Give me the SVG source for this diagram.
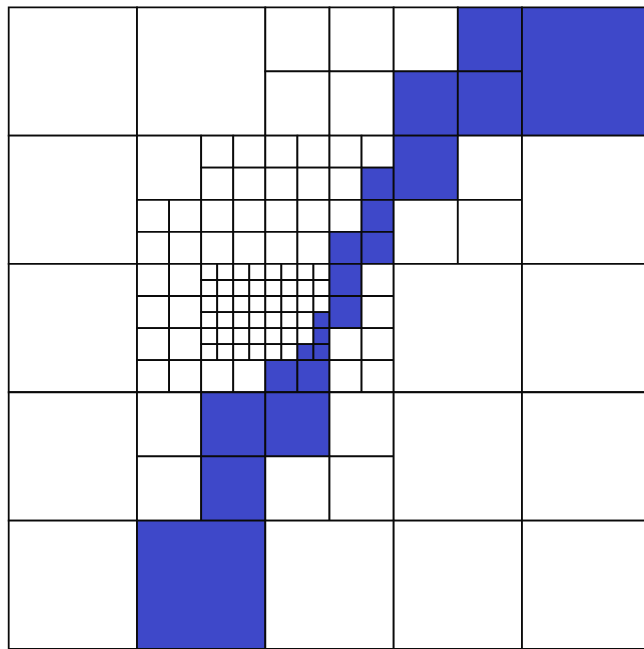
<svg xmlns="http://www.w3.org/2000/svg" width="644" height="649" viewBox="0 0 644 649">
<style>
rect{stroke:#0a0a0a;stroke-width:1.8;vector-effect:non-scaling-stroke;fill:#fff}
rect.b{fill:#3e48c9}
</style>
<rect x="0" y="0" width="644" height="649" style="stroke:none;fill:#fff"/>
<g transform="translate(8.7,7.3) scale(16.04)">
<g id="r0">
<rect x="0" y="0" width="8" height="8"/>
<rect x="8" y="0" width="8" height="8"/>
<rect x="16" y="0" width="4" height="4"/><rect x="20" y="0" width="4" height="4"/><rect x="16" y="4" width="4" height="4"/><rect x="20" y="4" width="4" height="4"/>
<rect x="24" y="0" width="4" height="4"/><rect class="b" x="28" y="0" width="4" height="4"/><rect class="b" x="24" y="4" width="4" height="4"/><rect class="b" x="28" y="4" width="4" height="4"/>
<rect class="b" x="32" y="0" width="8" height="8"/>
</g>
<g id="r1">
<rect x="0" y="8" width="8" height="8"/>
<rect x="8" y="8" width="4" height="4"/>
<rect x="12" y="8" width="2" height="2"/><rect x="14" y="8" width="2" height="2"/><rect x="12" y="10" width="2" height="2"/><rect x="14" y="10" width="2" height="2"/>
<rect x="8" y="12" width="2" height="2"/><rect x="10" y="12" width="2" height="2"/><rect x="8" y="14" width="2" height="2"/><rect x="10" y="14" width="2" height="2"/>
<rect x="12" y="12" width="2" height="2"/><rect x="14" y="12" width="2" height="2"/><rect x="12" y="14" width="2" height="2"/><rect x="14" y="14" width="2" height="2"/>
<rect x="16" y="8" width="2" height="2"/><rect x="18" y="8" width="2" height="2"/><rect x="16" y="10" width="2" height="2"/><rect x="18" y="10" width="2" height="2"/>
<rect x="20" y="8" width="2" height="2"/><rect x="22" y="8" width="2" height="2"/><rect x="20" y="10" width="2" height="2"/><rect class="b" x="22" y="10" width="2" height="2"/>
<rect x="16" y="12" width="2" height="2"/><rect x="18" y="12" width="2" height="2"/><rect x="16" y="14" width="2" height="2"/><rect x="18" y="14" width="2" height="2"/>
<rect x="20" y="12" width="2" height="2"/><rect class="b" x="22" y="12" width="2" height="2"/><rect class="b" x="20" y="14" width="2" height="2"/><rect class="b" x="22" y="14" width="2" height="2"/>
<rect class="b" x="24" y="8" width="4" height="4"/><rect x="28" y="8" width="4" height="4"/><rect x="24" y="12" width="4" height="4"/><rect x="28" y="12" width="4" height="4"/>
<rect x="32" y="8" width="8" height="8"/>
</g>
<g id="r2">
<rect x="0" y="16" width="8" height="8"/>
<rect x="8" y="16" width="2" height="2"/><rect x="10" y="16" width="2" height="2"/><rect x="8" y="18" width="2" height="2"/><rect x="10" y="18" width="2" height="2"/>
<rect x="8" y="20" width="2" height="2"/><rect x="10" y="20" width="2" height="2"/><rect x="8" y="22" width="2" height="2"/><rect x="10" y="22" width="2" height="2"/>
<g id="fine">
<rect x="12" y="16" width="1" height="1"/><rect x="13" y="16" width="1" height="1"/><rect x="14" y="16" width="1" height="1"/><rect x="15" y="16" width="1" height="1"/><rect x="16" y="16" width="1" height="1"/><rect x="17" y="16" width="1" height="1"/><rect x="18" y="16" width="1" height="1"/><rect x="19" y="16" width="1" height="1"/>
<rect x="12" y="17" width="1" height="1"/><rect x="13" y="17" width="1" height="1"/><rect x="14" y="17" width="1" height="1"/><rect x="15" y="17" width="1" height="1"/><rect x="16" y="17" width="1" height="1"/><rect x="17" y="17" width="1" height="1"/><rect x="18" y="17" width="1" height="1"/><rect x="19" y="17" width="1" height="1"/>
<rect x="12" y="18" width="1" height="1"/><rect x="13" y="18" width="1" height="1"/><rect x="14" y="18" width="1" height="1"/><rect x="15" y="18" width="1" height="1"/><rect x="16" y="18" width="1" height="1"/><rect x="17" y="18" width="1" height="1"/><rect x="18" y="18" width="1" height="1"/><rect x="19" y="18" width="1" height="1"/>
<rect x="12" y="19" width="1" height="1"/><rect x="13" y="19" width="1" height="1"/><rect x="14" y="19" width="1" height="1"/><rect x="15" y="19" width="1" height="1"/><rect x="16" y="19" width="1" height="1"/><rect x="17" y="19" width="1" height="1"/><rect x="18" y="19" width="1" height="1"/><rect class="b" x="19" y="19" width="1" height="1"/>
<rect x="12" y="20" width="1" height="1"/><rect x="13" y="20" width="1" height="1"/><rect x="14" y="20" width="1" height="1"/><rect x="15" y="20" width="1" height="1"/><rect x="16" y="20" width="1" height="1"/><rect x="17" y="20" width="1" height="1"/><rect x="18" y="20" width="1" height="1"/><rect class="b" x="19" y="20" width="1" height="1"/>
<rect x="12" y="21" width="1" height="1"/><rect x="13" y="21" width="1" height="1"/><rect x="14" y="21" width="1" height="1"/><rect x="15" y="21" width="1" height="1"/><rect x="16" y="21" width="1" height="1"/><rect x="17" y="21" width="1" height="1"/><rect class="b" x="18" y="21" width="1" height="1"/><rect class="b" x="19" y="21" width="1" height="1"/>
</g>
<rect x="12" y="22" width="2" height="2"/><rect x="14" y="22" width="2" height="2"/>
<rect class="b" x="16" y="22" width="2" height="2"/><rect class="b" x="18" y="22" width="2" height="2"/>
<rect class="b" x="20" y="16" width="2" height="2"/><rect x="22" y="16" width="2" height="2"/><rect class="b" x="20" y="18" width="2" height="2"/><rect x="22" y="18" width="2" height="2"/>
<rect x="20" y="20" width="2" height="2"/><rect x="22" y="20" width="2" height="2"/><rect x="20" y="22" width="2" height="2"/><rect x="22" y="22" width="2" height="2"/>
<rect x="24" y="16" width="8" height="8"/>
<rect x="32" y="16" width="8" height="8"/>
</g>
<g id="r3">
<rect x="0" y="24" width="8" height="8"/>
<rect x="8" y="24" width="4" height="4"/><rect class="b" x="12" y="24" width="4" height="4"/><rect x="8" y="28" width="4" height="4"/><rect class="b" x="12" y="28" width="4" height="4"/>
<rect class="b" x="16" y="24" width="4" height="4"/><rect x="20" y="24" width="4" height="4"/><rect x="16" y="28" width="4" height="4"/><rect x="20" y="28" width="4" height="4"/>
<rect x="24" y="24" width="8" height="8"/>
<rect x="32" y="24" width="8" height="8"/>
</g>
<g id="r4">
<rect x="0" y="32" width="8" height="8"/>
<rect class="b" x="8" y="32" width="8" height="8"/>
<rect x="16" y="32" width="8" height="8"/>
<rect x="24" y="32" width="8" height="8"/>
<rect x="32" y="32" width="8" height="8"/>
</g>
</g>
</svg>
